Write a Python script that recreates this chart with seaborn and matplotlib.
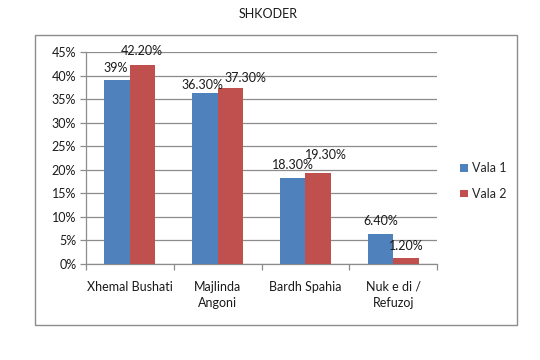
import matplotlib
matplotlib.use("Agg")
import matplotlib.pyplot as plt
import seaborn as sns
import pandas as pd
from matplotlib.patches import Rectangle

# === data ===
candidates = ["Xhemal Bushati", "Majlinda\nAngoni", "Bardh Spahia", "Nuk e di /\nRefuzoj"]
rounds = ["Vala 1", "Vala 2"]
vala1 = [39.0, 36.3, 18.3, 6.4]
vala2 = [42.2, 37.3, 19.3, 1.2]
labels1 = ["39%", "36.30%", "18.30%", "6.40%"]
labels2 = ["42.20%", "37.30%", "19.30%", "1.20%"]
yticks = [0, 5, 10, 15, 20, 25, 30, 35, 40, 45]

# label offsets (pixels) Excel used to keep neighbouring labels apart
nudge_x = [[-1, -2.5, 0, 0], [-1, 15, 7.5, 0]]
nudge_y = [[8, 4, 9, 9], [10, 6, 14, 8]]

BLUE = "#4F81BD"
RED = "#C0504D"
GRID = "#8C8C8C"
TXT = "#1a1a1a"
FS = 9
PX = 72 / 100  # points per pixel at dpi 100

df = pd.DataFrame({
    "Candidate": candidates * 2,
    "Round": [rounds[0]] * len(candidates) + [rounds[1]] * len(candidates),
    "Value": vala1 + vala2,
})

sns.set_theme(style="white")
plt.rcParams["font.family"] = ["Lato", "DejaVu Sans"]

fig = plt.figure(figsize=(5.4, 3.6), dpi=100)
ax = fig.add_axes([86 / 540, 1 - 264 / 360, (437 - 86) / 540, (264 - 52) / 360])

sns.barplot(data=df, x="Candidate", y="Value", hue="Round", order=candidates,
            hue_order=rounds, palette=[BLUE, RED], width=0.58, saturation=1,
            linewidth=0, ax=ax, legend=True, zorder=3)

for cont, labs, nx, ny in zip(ax.containers, [labels1, labels2], nudge_x, nudge_y):
    for bar, lab, dx, dy in zip(cont, labs, nx, ny):
        ax.annotate(lab, (bar.get_x() + bar.get_width() / 2, bar.get_height()),
                    xytext=(dx * PX, dy * PX), textcoords="offset points",
                    ha="center", va="baseline", fontsize=FS, color=TXT)

ax.set_ylim(0, 45)
ax.set_xlim(-0.5, len(candidates) - 0.5)
ax.set_yticks(yticks)
ax.set_yticklabels([f"{t}%" for t in yticks], fontsize=FS, color=TXT)
ax.yaxis.grid(True, color=GRID, linewidth=0.9, zorder=0)
ax.set_axisbelow(True)
ax.tick_params(axis="y", length=4, color=GRID, width=0.9, pad=3, left=True)
ax.set_xticks(range(len(candidates)))
ax.set_xticklabels(candidates, fontsize=FS, color=TXT, linespacing=1.45)
ax.tick_params(axis="x", which="major", length=0, pad=12)
ax.set_xticks([i - 0.5 for i in range(len(candidates) + 1)], minor=True)
ax.tick_params(axis="x", which="minor", length=4, color=GRID, width=0.9, bottom=True)
ax.set_xlabel("")
ax.set_ylabel("")
for side in ["top", "right"]:
    ax.spines[side].set_visible(False)
for side in ["left", "bottom"]:
    ax.spines[side].set_color(GRID)
    ax.spines[side].set_linewidth(0.9)

handles, labs = ax.get_legend_handles_labels()
ax.get_legend().remove()
fig.legend(handles, labs, loc="center left", bbox_to_anchor=(449 / 540, 1 - 181 / 360),
           frameon=False, fontsize=FS, handlelength=0.6, handleheight=0.6,
           handletextpad=0.3, labelspacing=1.1)

fig.text(268 / 540, 1 - 14 / 360, "SHKODER", ha="center", va="center",
         fontsize=FS, color=TXT)

fig.patches.append(Rectangle((35 / 540, 1 - 325 / 360), (517 - 35) / 540, (325 - 35) / 360,
                             transform=fig.transFigure, fill=False,
                             edgecolor=GRID, linewidth=1.0))

fig.savefig("out.png", dpi=100, facecolor="white")
